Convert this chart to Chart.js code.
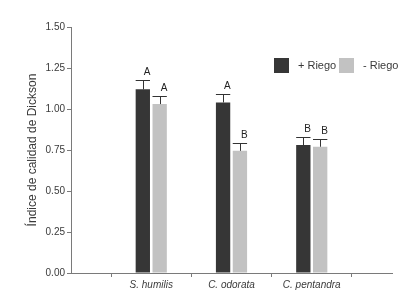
<!DOCTYPE html>
<html>
<head>
<meta charset="utf-8">
<script src="https://cdn.jsdelivr.net/npm/chart.js@4/dist/chart.umd.min.js"></script>
<style>
  html, body { margin: 0; padding: 0; background: #fff; }
  #wrap { width: 417px; height: 300px; }
</style>
</head>
<body>
<div id="wrap"><canvas id="myChart" width="417" height="300"></canvas></div>
<script>
'use strict';

// species on the x axis (blank slots at both ends keep the ticks spaced like the original)
const species = ['', 'S. humilis', 'C. odorata', 'C. pentandra', ''];
const seriesNames = ['+ Riego', '- Riego'];

const conRiego = [null, 1.12, 1.04, 0.78, null];
const sinRiego = [null, 1.03, 0.745, 0.77, null];

// upper error bar (SE)
const errCon = [null, 0.055, 0.05, 0.047, null];
const errSin = [null, 0.047, 0.046, 0.045, null];

// significance letters
const letrasCon = ['', 'A', 'A', 'B', ''];
const letrasSin = ['', 'A', 'B', 'B', ''];

const yTicks = [0, 0.25, 0.5, 0.75, 1.0, 1.25, 1.5];

const colors = ['#363636', '#c2c2c2'];
const axisColor = '#7a7a7a';
const textColor = '#3a3a3a';
const fontFamily = '"Liberation Sans", Arial, sans-serif';

const errors = [errCon, errSin];
const letters = [letrasCon, letrasSin];

const errorBarPlugin = {
  id: 'errorBars',
  afterDatasetsDraw(chart) {
    const ctx = chart.ctx;
    const yScale = chart.scales.y;
    ctx.save();
    chart.data.datasets.forEach((ds, di) => {
      const meta = chart.getDatasetMeta(di);
      meta.data.forEach((bar, i) => {
        const v = ds.data[i];
        if (v === null) return;
        const top = yScale.getPixelForValue(v + errors[di][i]);
        const base = yScale.getPixelForValue(v);
        const half = bar.width / 2;
        ctx.strokeStyle = '#333333';
        ctx.lineWidth = 1;
        ctx.beginPath();
        ctx.moveTo(Math.round(bar.x) + 0.5, base);
        ctx.lineTo(Math.round(bar.x) + 0.5, top);
        ctx.moveTo(bar.x - half, Math.round(top) + 0.5);
        ctx.lineTo(bar.x + half, Math.round(top) + 0.5);
        ctx.stroke();
        ctx.fillStyle = '#222222';
        ctx.font = '10px ' + fontFamily;
        ctx.textAlign = 'center';
        ctx.textBaseline = 'middle';
        ctx.fillText(letters[di][i], bar.x + half * 0.6, top - 8);
      });
    });
    ctx.restore();
  }
};

const legendPlugin = {
  id: 'boxLegend',
  afterDraw(chart) {
    const ctx = chart.ctx;
    const items = [{ x: 274, label: seriesNames[0] }, { x: 339, label: seriesNames[1] }];
    ctx.save();
    ctx.font = '11px ' + fontFamily;
    ctx.textBaseline = 'middle';
    ctx.textAlign = 'left';
    items.forEach((it, i) => {
      ctx.fillStyle = colors[i];
      ctx.fillRect(it.x, 58, 15, 15);
      ctx.fillStyle = textColor;
      ctx.fillText(it.label, it.x + 24, 66);
    });
    ctx.restore();
  }
};

const data = {
  labels: species,
  datasets: [
    {
      label: seriesNames[0],
      data: conRiego,
      backgroundColor: colors[0],
      borderWidth: 0,
      barPercentage: 0.85,
      categoryPercentage: 0.42,
    },
    {
      label: seriesNames[1],
      data: sinRiego,
      backgroundColor: colors[1],
      borderWidth: 0,
      barPercentage: 0.85,
      categoryPercentage: 0.42,
    },
  ],
};

const config = {
  type: 'bar',
  data,
  options: {
    responsive: false,
    animation: false,
    layout: { padding: { top: 27, right: 25, left: 25, bottom: 0 } },
    plugins: {
      legend: { display: false },
      tooltip: { enabled: false },
    },
    scales: {
      x: {
        offset: false,
        grid: { display: true, drawOnChartArea: false, drawTicks: true, tickLength: 4, color: axisColor },
        border: { display: true, color: axisColor, width: 1 },
        ticks: {
          color: textColor,
          font: { family: fontFamily, size: 10, style: 'italic' },
          maxRotation: 0,
          autoSkip: false,
          padding: 2,
        },
        afterFit(scale) { scale.height = 27; },
      },
      y: {
        min: 0,
        max: 1.5,
        afterBuildTicks(scale) { scale.ticks = yTicks.map(v => ({ value: v })); },
        grid: { display: true, drawOnChartArea: false, drawTicks: true, tickLength: 4, color: axisColor },
        border: { display: true, color: axisColor, width: 1 },
        ticks: {
          color: textColor,
          font: { family: fontFamily, size: 10 },
          padding: 2,
          callback: v => v.toFixed(2),
        },
        title: {
          display: true,
          text: 'Índice de calidad de Dickson',
          color: textColor,
          font: { family: fontFamily, size: 12 },
          padding: { top: 0, bottom: 4 },
        },
        afterFit(scale) { scale.width = 46; },
      },
    },
  },
  plugins: [errorBarPlugin, legendPlugin],
};

const myChart = new Chart(document.getElementById('myChart'), config);
</script>
</body>
</html>
